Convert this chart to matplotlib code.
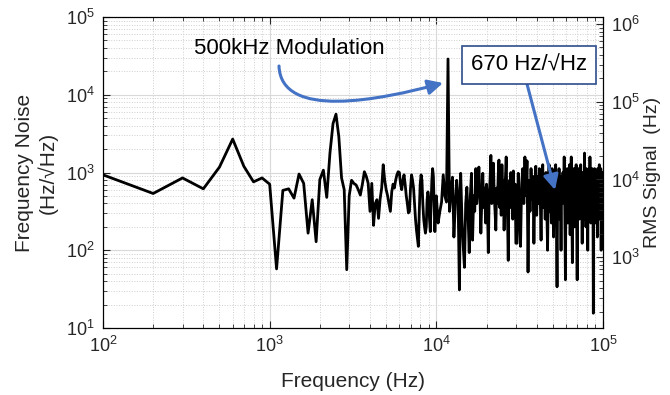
import numpy as np
import matplotlib
matplotlib.use('Agg')
import matplotlib.pyplot as plt
from matplotlib.patches import FancyArrowPatch
from matplotlib.path import Path

plt.rcParams['font.family'] = ['Liberation Sans', 'DejaVu Sans']
plt.rcParams['axes.linewidth'] = 0.8

# FFT bins (Hz): fine below 10 kHz, coarser above
freq_low = np.arange(100, 10001, 100)
freq_mid = np.arange(10250, 30001, 250)
freq_high = np.arange(30500, 100001, 500)

# log10 of frequency noise (Hz/sqrt(Hz))
noise_low_log = [
    2.97, 2.73, 2.93, 2.79, 3.07, 3.43, 3.08, 2.88, 2.93, 2.85,
    1.76, 2.77, 2.79, 2.67, 2.98, 2.86, 2.22, 2.65, 2.11, 2.91,
    3.03, 2.68, 3.25, 3.63, 3.75, 3.46, 2.93, 2.78, 1.75, 2.70,
    2.90, 2.86, 2.84, 2.78, 2.71, 2.85, 3.01, 2.95, 2.86, 2.50,
    2.86, 2.32, 2.60, 2.65, 2.41, 2.66, 2.80, 3.10, 2.90, 2.78,
    2.70, 2.60, 2.50, 2.75, 2.85, 2.80, 2.90, 2.97, 3.01, 3.00,
    2.85, 2.78, 2.90, 2.97, 2.85, 2.70, 2.60, 2.48, 2.50, 2.80,
    2.97, 2.90, 2.80, 2.60, 2.40, 2.26, 2.15, 2.05, 2.50, 2.85,
    2.97, 2.90, 2.60, 2.40, 2.30, 2.22, 2.30, 2.65, 2.75, 2.68,
    2.40, 2.24, 2.60, 2.90, 3.05, 2.95, 2.60, 2.24, 2.50, 2.70,
]
noise_mid_log = [
    2.35, 2.50, 2.62, 2.97, 2.70, 2.62, 4.46, 2.50, 2.75, 2.94,
    2.17, 2.60, 2.90, 2.70, 1.49, 2.99, 2.40, 2.05, 1.78, 2.60,
    2.81, 2.45, 1.97, 2.70, 2.99, 2.13, 2.70, 2.50, 3.05, 2.60,
    2.85, 3.07, 2.75, 2.22, 2.65, 2.99, 2.55, 2.80, 2.35, 2.85,
    2.60, 1.97, 2.70, 2.90, 3.22, 2.60, 2.85, 3.12, 2.70, 2.50,
    2.26, 2.80, 2.60, 2.95, 3.16, 2.55, 2.85, 2.45, 3.10, 2.70,
    2.90, 2.26, 2.75, 2.95, 3.20, 2.65, 2.40, 1.87, 2.70, 2.90,
    2.55, 3.00, 2.60, 2.80, 2.40, 3.02, 2.70, 2.50, 2.85, 2.09,
]
noise_high_log = [
    2.09, 2.99, 2.55, 2.05, 2.85, 3.05, 2.60, 3.20, 2.70, 3.15,
    1.72, 2.90, 2.50, 3.05, 2.65, 2.95, 2.09, 2.80, 3.08, 2.45,
    2.95, 2.60, 3.05, 2.70, 2.13, 2.90, 3.10, 2.55, 2.85, 2.40,
    3.00, 2.55, 2.00, 2.90, 3.10, 2.50, 2.85, 2.35, 3.05, 2.70,
    2.17, 2.95, 2.60, 3.10, 2.45, 1.53, 2.90, 2.65, 3.05, 2.40,
    2.85, 2.00, 2.95, 2.60, 3.00, 2.70, 3.20, 2.50, 1.62, 2.90,
    2.55, 3.05, 2.35, 2.90, 2.65, 3.10, 2.20, 2.85, 3.20, 2.50,
    1.84, 2.95, 2.60, 3.05, 2.30, 2.90, 2.70, 3.10, 2.45, 1.62,
    2.95, 2.60, 3.05, 2.40, 2.90, 2.70, 3.10, 2.50, 2.85, 2.09,
    3.00, 2.55, 2.95, 2.40, 3.25, 2.65, 2.90, 2.30, 3.05, 2.55,
    2.85, 2.00, 2.95, 2.60, 3.05, 2.45, 3.20, 2.70, 2.35, 2.95,
    2.60, 3.05, 2.40, 2.85, 1.19, 2.90, 2.55, 3.05, 2.35, 2.85,
    2.60, 3.00, 2.45, 2.90, 2.17, 3.05, 2.65, 2.90, 2.40, 3.10,
    2.55, 2.95, 2.70, 3.05, 2.00, 2.85, 2.55, 3.00, 2.40, 2.80,
]

freq = np.concatenate([freq_low, freq_mid, freq_high])
noise = 10 ** np.concatenate([noise_low_log, noise_mid_log, noise_high_log])

txt = '#262626'
blue = '#4472C4'

fig = plt.figure(figsize=(6.7, 3.95), dpi=100)
ax = fig.add_axes([103 / 670, 67 / 395, 500 / 670, 311 / 395])

ax.plot(freq, noise, color='black', lw=2.0)
ax.set_xscale('log')
ax.set_yscale('log')
ax.set_xlim(1e2, 1e5)
ax.set_ylim(1e1, 1e5)

ax.grid(which='major', color='#d9d9d9', lw=0.8, ls='-')
ax.grid(which='minor', color='#cfcfcf', lw=0.7, ls=':')
ax.set_axisbelow(True)
ax.tick_params(which='both', direction='in', top=True, right=False,
               labelsize=13, labelcolor=txt, color=txt)
ax.tick_params(which='major', length=5, pad=6)
ax.tick_params(which='minor', length=3)

ax.set_xlabel('Frequency (Hz)', fontsize=15, color=txt, labelpad=11)
ax.set_ylabel('Frequency Noise\n(Hz/\u221aHz)', fontsize=15, color=txt,
              labelpad=6, linespacing=1.15)

# right axis: RMS signal
ax2 = ax.twinx()
ax2.set_yscale('log')
ax2.set_ylim(10 ** 2.09, 10 ** 6.09)
ax2.tick_params(which='both', direction='in', labelsize=13,
                labelcolor=txt, color=txt)
ax2.tick_params(which='major', length=5, pad=6)
ax2.tick_params(which='minor', length=3)
ax2.set_ylabel('RMS Signal  (Hz)', fontsize=14, color=txt, labelpad=3)


def px(x, y):
    # pixel position in the picture -> axes fraction
    return ((x - 103) / 500, (328 - y) / 311)


ax2.text(*px(194, 48), '500kHz Modulation', transform=ax2.transAxes,
         fontsize=16, ha='left', va='center', color='black')

curve = Path([px(279, 66), px(281, 120), px(380, 100), px(443, 83)],
             [Path.MOVETO, Path.CURVE4, Path.CURVE4, Path.CURVE4])
arr1 = FancyArrowPatch(path=curve, transform=ax2.transAxes,
                       arrowstyle='-|>,head_length=0.9,head_width=0.45',
                       mutation_scale=10, color=blue, lw=2.2,
                       shrinkA=0, shrinkB=0)
ax2.add_patch(arr1)

arr2 = FancyArrowPatch(px(527, 84), px(555, 190), transform=ax2.transAxes,
                       arrowstyle='-|>,head_length=0.9,head_width=0.45',
                       mutation_scale=10, color=blue, lw=2.2,
                       shrinkA=0, shrinkB=0, zorder=5)
ax2.add_patch(arr2)

ax2.text(*px(529, 65), '670 Hz/\u221aHz', transform=ax2.transAxes,
         fontsize=16, ha='center', va='center', color='black', zorder=6,
         bbox=dict(boxstyle='square,pad=0.4', fc='white', ec='#2F4D8A', lw=1.2))

fig.savefig('out.png', dpi=100)
